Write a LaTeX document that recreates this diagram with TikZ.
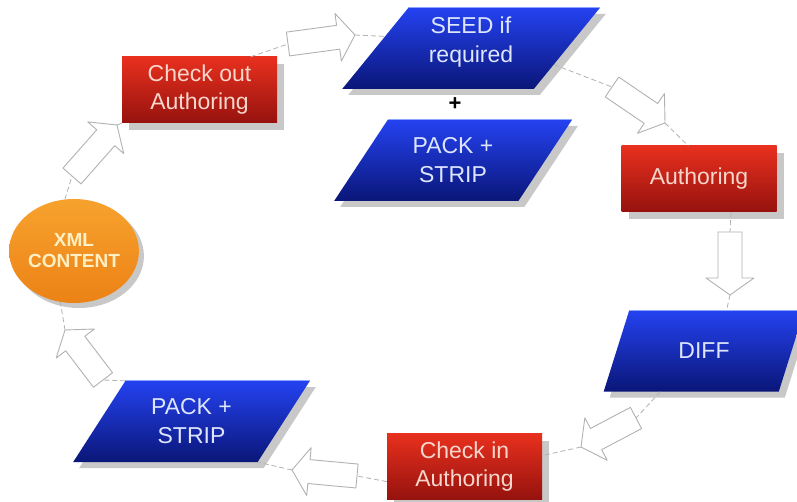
\documentclass[tikz,border=0pt]{standalone}
\usepackage{fontspec}
\setmainfont{Liberation Sans}
\usetikzlibrary{shapes.geometric,shadows,calc}

\definecolor{redtop}{RGB}{232,48,30}
\definecolor{redbot}{RGB}{150,18,14}
\definecolor{bluetop}{RGB}{36,66,240}
\definecolor{bluebot}{RGB}{10,22,120}
\definecolor{bluerim}{RGB}{140,165,255}
\definecolor{orangetop}{RGB}{247,162,46}
\definecolor{orangebot}{RGB}{236,130,22}
\definecolor{redtext}{RGB}{248,214,204}
\definecolor{bluetext}{RGB}{222,230,255}
\definecolor{xmltext}{RGB}{255,240,196}
\definecolor{linkgray}{RGB}{178,178,178}
\definecolor{shadowgray}{RGB}{200,200,200}

\tikzset{
  every node/.style={inner sep=0pt},
  softshadow/.style={drop shadow={shadow xshift=#1, shadow yshift=-#1, fill=shadowgray, opacity=1}},
  redbox/.style={rectangle, minimum width=155pt, minimum height=66pt,
    top color=redtop, bottom color=redbot, text=redtext, align=center,
    font=\fontsize{23}{28}\selectfont, softshadow=7pt},
  bluebox/.style={trapezium, trapezium stretches=true, minimum height=81pt,
    top color=bluetop, bottom color=bluebot, text=bluetext, align=center,
    font=\fontsize{23}{29}\selectfont, softshadow=6pt},
  xmlbubble/.style={ellipse, minimum width=124pt, minimum height=104pt,
    top color=orangetop, bottom color=orangebot, text=xmltext, align=center,
    font=\fontsize{19}{21}\selectfont\bfseries, softshadow=5pt},
  rim/.style={draw=bluerim, line width=1pt},
  link/.style={draw=linkgray, dash pattern=on 5pt off 3pt, line width=0.8pt},
  hollow/.style={draw=linkgray, fill=white, line width=0.9pt, line join=round},
}

% hollow block arrow from tail coordinate #1 to tip coordinate #2
\newcommand\hollowarrow[2]{%
  \coordinate (#2n) at ($(#2)!17pt!(#1)$);
  \draw[hollow] ($(#1)!12pt!90:(#2)$) -- ($(#2n)!12pt!90:(#2)$)
    -- ($(#2n)!24pt!90:(#2)$) -- (#2) -- ($(#2n)!24pt!-90:(#2)$)
    -- ($(#2n)!12pt!-90:(#2)$) -- ($(#1)!12pt!-90:(#2)$) -- cycle;
}

\begin{document}
\begin{tikzpicture}[x=1pt, y=-1pt]
  \useasboundingbox (0,0) rectangle (797,502);
  \clip (0,0) rectangle (797,502);
  \fill[white] (0,0) rectangle (797,502);

  % process steps
  \node[xmlbubble] (xml) at (74,251) {XML\\CONTENT};
  \node[redbox] (co) at (199.5,90) {Check out\\Authoring};
  \node[bluebox, minimum width=258pt, trapezium left angle=52.6, trapezium right angle=127.4]
    (seed) at (471,48.5)
    {\raisebox{6pt}[\height][\depth]{\begin{tabular}{@{}c@{}}SEED if\\required\end{tabular}}};
  \node[font=\fontsize{22}{22}\selectfont\bfseries] (plus) at (455,104) {+};
  \node[bluebox, minimum width=238pt, trapezium left angle=53.9, trapezium right angle=126.1]
    (pack1) at (453,160.5) {PACK +\\STRIP};
  \node[redbox] (auth) at (699,179) {Authoring};
  \node[bluebox, minimum width=202pt, trapezium left angle=61.2, trapezium right angle=118.8]
    (diff) at (704,351) {DIFF};
  \node[redbox] (ci) at (464.5,466.5) {Check in\\Authoring};
  \node[bluebox, minimum width=237pt, trapezium left angle=54.9, trapezium right angle=125.1]
    (pack2) at (191.5,421.5) {PACK +\\STRIP};

  % light rim along the top edge of each parallelogram
  \foreach \p in {seed,pack1,diff,pack2}
    \draw[rim] (\p.top left corner) -- (\p.top right corner);

  % arrow tails and tips
  \coordinate (a1t) at (72,176);   \coordinate (a1h) at (117,125);
  \coordinate (a2t) at (288,44);   \coordinate (a2h) at (355,35);
  \coordinate (a3t) at (612,87);   \coordinate (a3h) at (665,123);
  \coordinate (a4t) at (730,232);  \coordinate (a4h) at (730,295);
  \coordinate (a5t) at (636,418);  \coordinate (a5h) at (581,447);
  \coordinate (a6t) at (357,476);  \coordinate (a6h) at (292,470);
  \coordinate (a7t) at (103,380);  \coordinate (a7h) at (65,330);

  % dashed cycle links
  \draw[link] (xml.100) -- (a1t);
  \draw[link] (a1h) -- (co.south west);
  \draw[link] (co.33) -- (a2t);
  \draw[link] (a2h) -- (seed.172);
  \draw[link] (seed.-11) -- (a3t);
  \draw[link] (a3h) -- (auth.108);
  \draw[link] (auth.-46) -- (a4t);
  \draw[link] (a4h) -- (diff.61);
  \draw[link] (diff.-137) -- (a5t);
  \draw[link] (a5h) -- (ci.8);
  \draw[link] (ci.191) -- (a6t);
  \draw[link] (a6h) -- (pack2.bottom right corner);
  \draw[link] (pack2.top left corner) -- (a7t);
  \draw[link] (a7h) -- (xml.-105);

  % hollow direction arrows
  \hollowarrow{a1t}{a1h}
  \hollowarrow{a2t}{a2h}
  \hollowarrow{a3t}{a3h}
  \hollowarrow{a4t}{a4h}
  \hollowarrow{a5t}{a5h}
  \hollowarrow{a6t}{a6h}
  \hollowarrow{a7t}{a7h}
\end{tikzpicture}
\end{document}
